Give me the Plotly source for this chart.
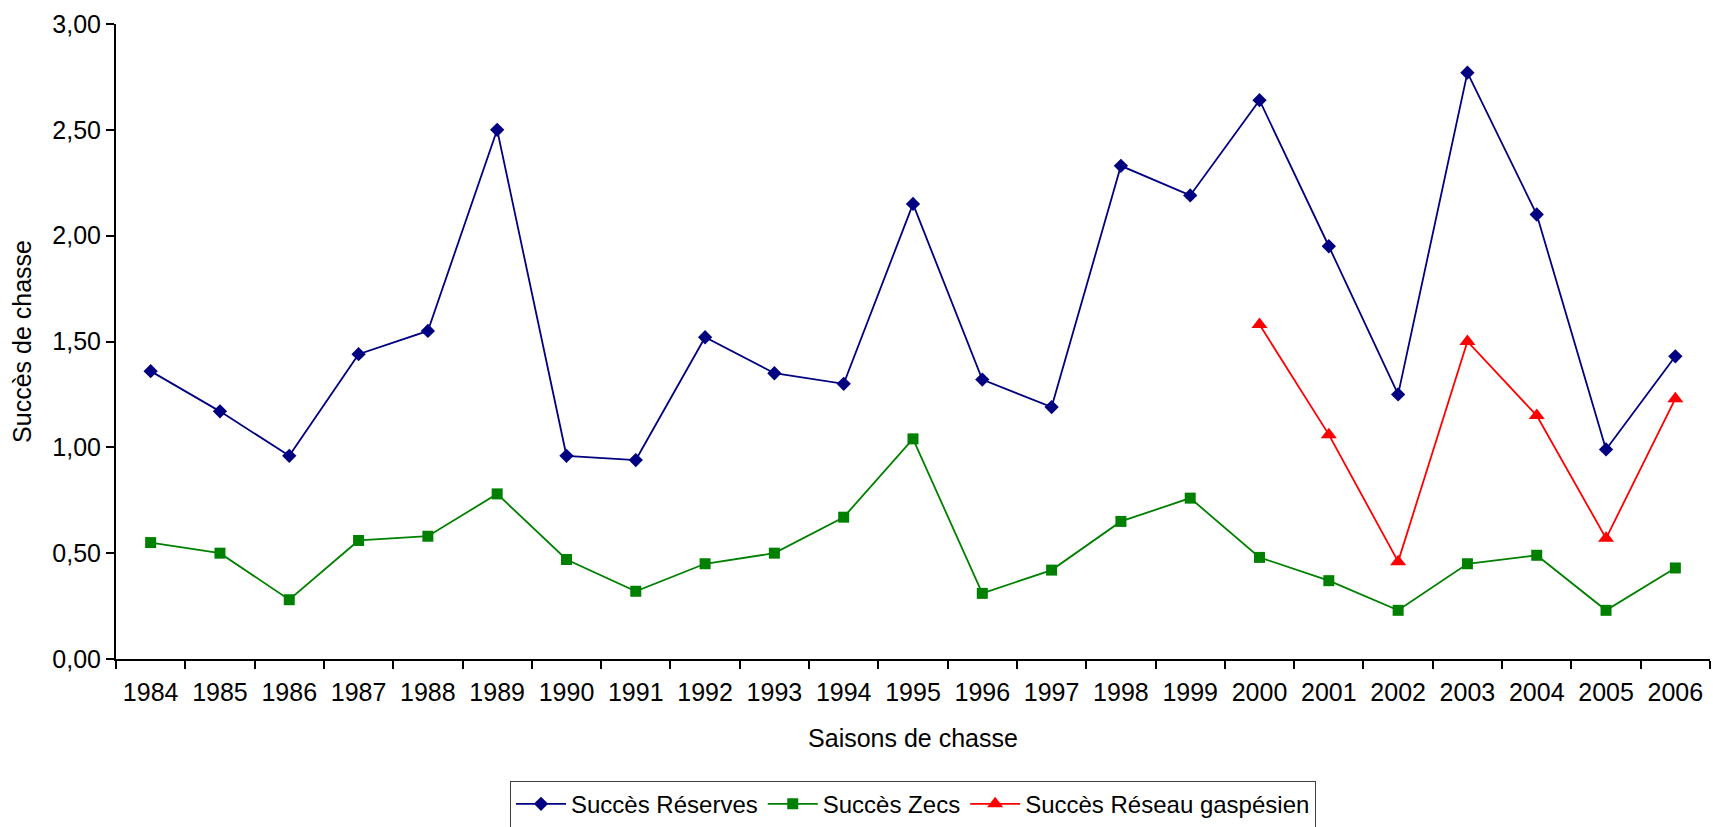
import plotly.graph_objects as go

# Seasons (x categories)
saisons = [str(y) for y in range(1984, 2007)]

# Hunting success per season
succes_reserves = [1.36, 1.17, 0.96, 1.44, 1.55, 2.50, 0.96, 0.94, 1.52, 1.35, 1.30, 2.15,
                   1.32, 1.19, 2.33, 2.19, 2.64, 1.95, 1.25, 2.77, 2.10, 0.99, 1.43]
succes_zecs = [0.55, 0.50, 0.28, 0.56, 0.58, 0.78, 0.47, 0.32, 0.45, 0.50, 0.67, 1.04,
               0.31, 0.42, 0.65, 0.76, 0.48, 0.37, 0.23, 0.45, 0.49, 0.23, 0.43]
saisons_gaspesie = ["2000", "2001", "2002", "2003", "2004", "2005", "2006"]
succes_gaspesie = [1.58, 1.06, 0.46, 1.50, 1.15, 0.57, 1.23]

FONT = "Liberation Sans, Arial, sans-serif"
FS = 25

fig = go.Figure()
fig.add_trace(go.Scatter(
    x=saisons, y=succes_reserves, name="Succès Réserves", mode="lines+markers",
    line=dict(color="#000080", width=1.8),
    marker=dict(symbol="diamond", size=11, color="#000080"),
))
fig.add_trace(go.Scatter(
    x=saisons, y=succes_zecs, name="Succès Zecs", mode="lines+markers",
    line=dict(color="#008000", width=1.8),
    marker=dict(symbol="square", size=11, color="#008000"),
))
fig.add_trace(go.Scatter(
    x=saisons_gaspesie, y=succes_gaspesie, name="Succès Réseau gaspésien", mode="lines+markers",
    line=dict(color="#FF0000", width=1.8),
    marker=dict(symbol="triangle-up", size=14, color="#FF0000"),
))

fig.update_layout(
    width=1713, height=827,
    margin=dict(l=116, r=3, t=24, b=168),
    paper_bgcolor="white", plot_bgcolor="white",
    separators=", ",
    font=dict(family=FONT, size=FS, color="black"),
    showlegend=True,
    legend=dict(
        orientation="h", x=0.5, xanchor="center",
        yref="container", y=0.056, yanchor="top",
        bordercolor="#404040", borderwidth=1, bgcolor="white",
        font=dict(size=24), itemwidth=50,
    ),
    xaxis=dict(
        type="category", categoryorder="array", categoryarray=saisons,
        range=[-0.5, len(saisons) - 0.5],
        showline=True, linecolor="black", linewidth=2,
        ticks="outside", tickson="boundaries", ticklen=8, tickwidth=2, tickcolor="black",
        ticklabelstandoff=10,
        showgrid=False, zeroline=False,
        title=dict(text="Saisons de chasse", standoff=24, font=dict(size=FS)),
    ),
    yaxis=dict(
        range=[0, 3], dtick=0.5, tick0=0, tickformat=".2f",
        showline=True, linecolor="black", linewidth=2,
        ticks="outside", ticklen=8, tickwidth=2, tickcolor="black",
        showgrid=False, zeroline=False,
        title=dict(text="Succès de chasse", standoff=14, font=dict(size=FS)),
    ),
)

fig.write_html("out.html")
